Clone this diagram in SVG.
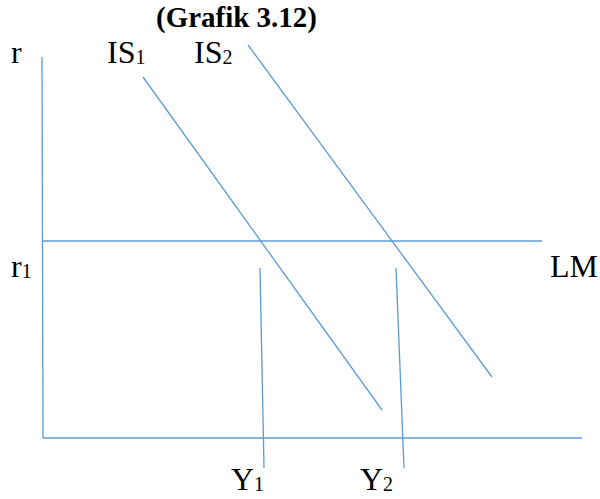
<svg xmlns="http://www.w3.org/2000/svg" width="600" height="499" viewBox="0 0 600 499">
<style>
.ln{stroke:#5b9bd5;stroke-width:1.3;fill:none}
.t{font-family:"Liberation Serif","Times New Roman",serif;font-size:32px;fill:#000}
.s{font-size:20px}
.ttl{font-family:"Liberation Serif","Times New Roman",serif;font-size:29px;font-weight:bold;fill:#000}
</style>
<rect width="600" height="499" fill="#fff"/>
<g id="connectors">
<line class="ln" x1="42" y1="57" x2="43" y2="438"/>
<line class="ln" x1="43" y1="438" x2="582" y2="438"/>
<line class="ln" x1="43" y1="241" x2="542" y2="241"/>
<line class="ln" x1="143" y1="77" x2="382" y2="410"/>
<line class="ln" x1="248" y1="45" x2="492" y2="377"/>
<line class="ln" x1="260" y1="268" x2="264" y2="468"/>
<line class="ln" x1="396" y1="268" x2="404" y2="468"/>
</g>
<g id="title"><text class="ttl" x="156" y="27" textLength="161" lengthAdjust="spacingAndGlyphs">(Grafik 3.12)</text></g>
<g id="label-r"><text class="t" x="11" y="63">r</text></g>
<g id="label-IS1"><text class="t" x="107" y="63">IS<tspan class="s" dy="1">1</tspan></text></g>
<g id="label-IS2"><text class="t" x="194" y="63">IS<tspan class="s" dy="1">2</tspan></text></g>
<g id="label-r1"><text class="t" x="11" y="277">r<tspan class="s" dy="1">1</tspan></text></g>
<g id="label-LM"><text class="t" x="550" y="277">LM</text></g>
<g id="label-Y1"><text class="t" x="231" y="490">Y<tspan class="s" dy="1">1</tspan></text></g>
<g id="label-Y2"><text class="t" x="360" y="490">Y<tspan class="s" dy="1">2</tspan></text></g>
</svg>
